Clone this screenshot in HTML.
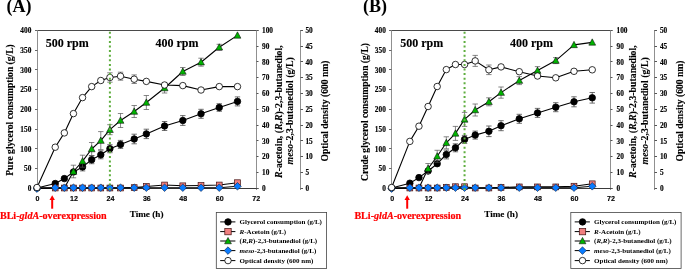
<!DOCTYPE html>
<html><head><meta charset="utf-8"><style>
html,body{margin:0;padding:0;background:#fff;}
body{width:685px;height:269px;overflow:hidden;}
svg{display:block;will-change:transform;}
.b{stroke:#000;stroke-width:0.12px;}
.t{stroke:#000;stroke-width:0.15px;}
.r{stroke:#f00;stroke-width:0.2px;}
</style></head><body>
<svg width="685" height="269" viewBox="0 0 685 269">
<rect width="685" height="269" fill="#fff"/>
<g>
<text x="6.4" y="12.3" font-family="'Liberation Serif', serif" font-size="18" font-weight="bold" text-anchor="start" fill="#000" >(A)</text>
<path d="M35 30.5H258.5" stroke="#4a4a4a" stroke-width="1"/>
<path d="M37.5 30V188.5" stroke="#909090" stroke-width="1"/>
<path d="M256.5 30V190" stroke="#909090" stroke-width="1"/>
<path d="M300.5 30V190" stroke="#909090" stroke-width="1"/>
<path d="M37 188.5H258.5" stroke="#3a3a3a" stroke-width="1"/>
<path d="M35 188.5H37.5" stroke="#666" stroke-width="1"/>
<text x="31.3" y="191" font-family="'Liberation Serif', serif" font-size="7.3" font-weight="bold" text-anchor="end" fill="#000" class="t">0</text>
<path d="M35 168.5H37.5" stroke="#666" stroke-width="1"/>
<text x="31.3" y="171.26" font-family="'Liberation Serif', serif" font-size="7.3" font-weight="bold" text-anchor="end" fill="#000" class="t">50</text>
<path d="M35 148.5H37.5" stroke="#666" stroke-width="1"/>
<text x="31.3" y="151.53" font-family="'Liberation Serif', serif" font-size="7.3" font-weight="bold" text-anchor="end" fill="#000" class="t">100</text>
<path d="M35 129.5H37.5" stroke="#666" stroke-width="1"/>
<text x="31.3" y="131.79" font-family="'Liberation Serif', serif" font-size="7.3" font-weight="bold" text-anchor="end" fill="#000" class="t">150</text>
<path d="M35 109.5H37.5" stroke="#666" stroke-width="1"/>
<text x="31.3" y="112.05" font-family="'Liberation Serif', serif" font-size="7.3" font-weight="bold" text-anchor="end" fill="#000" class="t">200</text>
<path d="M35 89.5H37.5" stroke="#666" stroke-width="1"/>
<text x="31.3" y="92.31" font-family="'Liberation Serif', serif" font-size="7.3" font-weight="bold" text-anchor="end" fill="#000" class="t">250</text>
<path d="M35 69.5H37.5" stroke="#666" stroke-width="1"/>
<text x="31.3" y="72.58" font-family="'Liberation Serif', serif" font-size="7.3" font-weight="bold" text-anchor="end" fill="#000" class="t">300</text>
<path d="M35 50.5H37.5" stroke="#666" stroke-width="1"/>
<text x="31.3" y="52.84" font-family="'Liberation Serif', serif" font-size="7.3" font-weight="bold" text-anchor="end" fill="#000" class="t">350</text>
<path d="M35 30.5H37.5" stroke="#666" stroke-width="1"/>
<text x="31.3" y="33.1" font-family="'Liberation Serif', serif" font-size="7.3" font-weight="bold" text-anchor="end" fill="#000" class="t">400</text>
<path d="M256.5 188.5H258.5" stroke="#555" stroke-width="1"/>
<text x="262" y="191" font-family="'Liberation Serif', serif" font-size="7.3" font-weight="bold" text-anchor="start" fill="#000" class="t">0</text>
<path d="M256.5 172.5H258.5" stroke="#555" stroke-width="1"/>
<text x="262" y="175.21" font-family="'Liberation Serif', serif" font-size="7.3" font-weight="bold" text-anchor="start" fill="#000" class="t">10</text>
<path d="M256.5 156.5H258.5" stroke="#555" stroke-width="1"/>
<text x="262" y="159.42" font-family="'Liberation Serif', serif" font-size="7.3" font-weight="bold" text-anchor="start" fill="#000" class="t">20</text>
<path d="M256.5 140.5H258.5" stroke="#555" stroke-width="1"/>
<text x="262" y="143.63" font-family="'Liberation Serif', serif" font-size="7.3" font-weight="bold" text-anchor="start" fill="#000" class="t">30</text>
<path d="M256.5 125.5H258.5" stroke="#555" stroke-width="1"/>
<text x="262" y="127.84" font-family="'Liberation Serif', serif" font-size="7.3" font-weight="bold" text-anchor="start" fill="#000" class="t">40</text>
<path d="M256.5 109.5H258.5" stroke="#555" stroke-width="1"/>
<text x="262" y="112.05" font-family="'Liberation Serif', serif" font-size="7.3" font-weight="bold" text-anchor="start" fill="#000" class="t">50</text>
<path d="M256.5 93.5H258.5" stroke="#555" stroke-width="1"/>
<text x="262" y="96.26" font-family="'Liberation Serif', serif" font-size="7.3" font-weight="bold" text-anchor="start" fill="#000" class="t">60</text>
<path d="M256.5 77.5H258.5" stroke="#555" stroke-width="1"/>
<text x="262" y="80.47" font-family="'Liberation Serif', serif" font-size="7.3" font-weight="bold" text-anchor="start" fill="#000" class="t">70</text>
<path d="M256.5 61.5H258.5" stroke="#555" stroke-width="1"/>
<text x="262" y="64.68" font-family="'Liberation Serif', serif" font-size="7.3" font-weight="bold" text-anchor="start" fill="#000" class="t">80</text>
<path d="M256.5 46.5H258.5" stroke="#555" stroke-width="1"/>
<text x="262" y="48.89" font-family="'Liberation Serif', serif" font-size="7.3" font-weight="bold" text-anchor="start" fill="#000" class="t">90</text>
<path d="M256.5 30.5H258.5" stroke="#555" stroke-width="1"/>
<text x="262" y="33.1" font-family="'Liberation Serif', serif" font-size="7.3" font-weight="bold" text-anchor="start" fill="#000" class="t">100</text>
<path d="M300.5 188.5H303" stroke="#555" stroke-width="1"/>
<text x="305.4" y="191" font-family="'Liberation Serif', serif" font-size="7.3" font-weight="bold" text-anchor="start" fill="#000" class="t">0</text>
<path d="M300.5 172.5H303" stroke="#555" stroke-width="1"/>
<text x="305.4" y="175.21" font-family="'Liberation Serif', serif" font-size="7.3" font-weight="bold" text-anchor="start" fill="#000" class="t">5</text>
<path d="M300.5 156.5H303" stroke="#555" stroke-width="1"/>
<text x="305.4" y="159.42" font-family="'Liberation Serif', serif" font-size="7.3" font-weight="bold" text-anchor="start" fill="#000" class="t">10</text>
<path d="M300.5 140.5H303" stroke="#555" stroke-width="1"/>
<text x="305.4" y="143.63" font-family="'Liberation Serif', serif" font-size="7.3" font-weight="bold" text-anchor="start" fill="#000" class="t">15</text>
<path d="M300.5 125.5H303" stroke="#555" stroke-width="1"/>
<text x="305.4" y="127.84" font-family="'Liberation Serif', serif" font-size="7.3" font-weight="bold" text-anchor="start" fill="#000" class="t">20</text>
<path d="M300.5 109.5H303" stroke="#555" stroke-width="1"/>
<text x="305.4" y="112.05" font-family="'Liberation Serif', serif" font-size="7.3" font-weight="bold" text-anchor="start" fill="#000" class="t">25</text>
<path d="M300.5 93.5H303" stroke="#555" stroke-width="1"/>
<text x="305.4" y="96.26" font-family="'Liberation Serif', serif" font-size="7.3" font-weight="bold" text-anchor="start" fill="#000" class="t">30</text>
<path d="M300.5 77.5H303" stroke="#555" stroke-width="1"/>
<text x="305.4" y="80.47" font-family="'Liberation Serif', serif" font-size="7.3" font-weight="bold" text-anchor="start" fill="#000" class="t">35</text>
<path d="M300.5 61.5H303" stroke="#555" stroke-width="1"/>
<text x="305.4" y="64.68" font-family="'Liberation Serif', serif" font-size="7.3" font-weight="bold" text-anchor="start" fill="#000" class="t">40</text>
<path d="M300.5 46.5H303" stroke="#555" stroke-width="1"/>
<text x="305.4" y="48.89" font-family="'Liberation Serif', serif" font-size="7.3" font-weight="bold" text-anchor="start" fill="#000" class="t">45</text>
<path d="M300.5 30.5H303" stroke="#555" stroke-width="1"/>
<text x="305.4" y="33.1" font-family="'Liberation Serif', serif" font-size="7.3" font-weight="bold" text-anchor="start" fill="#000" class="t">50</text>
<text transform="translate(37.5,201.4) scale(0.9,1)" font-family="'Liberation Sans', sans-serif" font-size="7.9" font-weight="bold" text-anchor="middle" class="t">0</text>
<text transform="translate(73.95,201.4) scale(0.9,1)" font-family="'Liberation Sans', sans-serif" font-size="7.9" font-weight="bold" text-anchor="middle" class="t">12</text>
<text transform="translate(110.4,201.4) scale(0.9,1)" font-family="'Liberation Sans', sans-serif" font-size="7.9" font-weight="bold" text-anchor="middle" class="t">24</text>
<text transform="translate(146.85,201.4) scale(0.9,1)" font-family="'Liberation Sans', sans-serif" font-size="7.9" font-weight="bold" text-anchor="middle" class="t">36</text>
<text transform="translate(183.3,201.4) scale(0.9,1)" font-family="'Liberation Sans', sans-serif" font-size="7.9" font-weight="bold" text-anchor="middle" class="t">48</text>
<text transform="translate(219.75,201.4) scale(0.9,1)" font-family="'Liberation Sans', sans-serif" font-size="7.9" font-weight="bold" text-anchor="middle" class="t">60</text>
<text transform="translate(256.2,201.4) scale(0.9,1)" font-family="'Liberation Sans', sans-serif" font-size="7.9" font-weight="bold" text-anchor="middle" class="t">72</text>
<text x="146.6" y="217.3" font-family="'Liberation Serif', serif" font-size="9.2" font-weight="bold" text-anchor="middle" fill="#000" class="b">Time (h)</text>
<text transform="translate(13.3,110) rotate(-90)" class="b" font-family="'Liberation Serif', serif" font-size="9.55" font-weight="bold" text-anchor="middle">Pure glycerol consumption (g/L)</text>
<text transform="translate(281.5,111.6) rotate(-90)" class="b" font-family="'Liberation Serif', serif" font-size="9.8" font-weight="bold" text-anchor="middle"><tspan font-style="italic">R</tspan>-acetoin, (<tspan font-style="italic">R</tspan>,<tspan font-style="italic">R</tspan>)-2,3-butanediol,</text>
<text transform="translate(293,110.8) rotate(-90)" class="b" font-family="'Liberation Serif', serif" font-size="9.8" font-weight="bold" text-anchor="middle"><tspan font-style="italic">meso</tspan>-2,3-butanediol (g/L)</text>
<text transform="translate(328,111) rotate(-90)" class="b" font-family="'Liberation Serif', serif" font-size="9.6" font-weight="bold" text-anchor="middle">Optical density (600 nm)</text>
<text x="45.8" y="47.3" font-family="'Liberation Serif', serif" font-size="12" font-weight="bold" text-anchor="start" fill="#000" class="b">500 rpm</text>
<text x="155.5" y="47.2" font-family="'Liberation Serif', serif" font-size="12" font-weight="bold" text-anchor="start" fill="#000" class="b">400 rpm</text>
<polyline points="37,188 55.23,183.5 64.34,178.6 73.45,172 82.56,166.9 91.68,159.7 100.79,154.8 109.9,148.7 120.53,144.4 134.2,139 146.35,133.9 164.57,126 182.8,120.5 201.03,113.8 219.25,107.5 237.47,101.4" fill="none" stroke="#000" stroke-width="1.1" stroke-linejoin="round"/>
<path d="M82.56 162.9V170.9M79.86 162.9H85.26M79.86 170.9H85.26" stroke="#333" stroke-width="0.7" fill="none"/>
<path d="M91.68 155.7V163.7M88.98 155.7H94.38M88.98 163.7H94.38" stroke="#333" stroke-width="0.7" fill="none"/>
<path d="M100.79 150.8V158.8M98.09 150.8H103.49M98.09 158.8H103.49" stroke="#333" stroke-width="0.7" fill="none"/>
<path d="M109.9 144.7V152.7M107.2 144.7H112.6M107.2 152.7H112.6" stroke="#333" stroke-width="0.7" fill="none"/>
<path d="M120.53 140.4V148.4M117.83 140.4H123.23M117.83 148.4H123.23" stroke="#333" stroke-width="0.7" fill="none"/>
<path d="M134.2 134.2V143.8M131.5 134.2H136.9M131.5 143.8H136.9" stroke="#333" stroke-width="0.7" fill="none"/>
<path d="M146.35 129.2V138.6M143.65 129.2H149.05M143.65 138.6H149.05" stroke="#333" stroke-width="0.7" fill="none"/>
<path d="M164.57 121.5V130.5M161.88 121.5H167.27M161.88 130.5H167.27" stroke="#333" stroke-width="0.7" fill="none"/>
<path d="M182.8 115.6V125.4M180.1 115.6H185.5M180.1 125.4H185.5" stroke="#333" stroke-width="0.7" fill="none"/>
<path d="M201.03 109.3V118.3M198.33 109.3H203.72M198.33 118.3H203.72" stroke="#333" stroke-width="0.7" fill="none"/>
<path d="M219.25 103.7V111.3M216.55 103.7H221.95M216.55 111.3H221.95" stroke="#333" stroke-width="0.7" fill="none"/>
<path d="M237.47 96.9V105.9M234.78 96.9H240.17M234.78 105.9H240.17" stroke="#333" stroke-width="0.7" fill="none"/>
<circle cx="37" cy="188" r="3.25" fill="#000" stroke="#000" stroke-width="0.8"/>
<circle cx="55.23" cy="183.5" r="3.25" fill="#000" stroke="#000" stroke-width="0.8"/>
<circle cx="64.34" cy="178.6" r="3.25" fill="#000" stroke="#000" stroke-width="0.8"/>
<circle cx="73.45" cy="172" r="3.25" fill="#000" stroke="#000" stroke-width="0.8"/>
<circle cx="82.56" cy="166.9" r="3.25" fill="#000" stroke="#000" stroke-width="0.8"/>
<circle cx="91.68" cy="159.7" r="3.25" fill="#000" stroke="#000" stroke-width="0.8"/>
<circle cx="100.79" cy="154.8" r="3.25" fill="#000" stroke="#000" stroke-width="0.8"/>
<circle cx="109.9" cy="148.7" r="3.25" fill="#000" stroke="#000" stroke-width="0.8"/>
<circle cx="120.53" cy="144.4" r="3.25" fill="#000" stroke="#000" stroke-width="0.8"/>
<circle cx="134.2" cy="139" r="3.25" fill="#000" stroke="#000" stroke-width="0.8"/>
<circle cx="146.35" cy="133.9" r="3.25" fill="#000" stroke="#000" stroke-width="0.8"/>
<circle cx="164.57" cy="126" r="3.25" fill="#000" stroke="#000" stroke-width="0.8"/>
<circle cx="182.8" cy="120.5" r="3.25" fill="#000" stroke="#000" stroke-width="0.8"/>
<circle cx="201.03" cy="113.8" r="3.25" fill="#000" stroke="#000" stroke-width="0.8"/>
<circle cx="219.25" cy="107.5" r="3.25" fill="#000" stroke="#000" stroke-width="0.8"/>
<circle cx="237.47" cy="101.4" r="3.25" fill="#000" stroke="#000" stroke-width="0.8"/>
<polyline points="37,188 55.23,188 64.34,188 73.45,188 82.56,188 91.68,188 100.79,188 109.9,188 120.53,188 134.2,187.6 146.35,186.5 164.57,185 182.8,185.8 201.03,185.5 219.25,185 237.47,182.7" fill="none" stroke="#000" stroke-width="1.1" stroke-linejoin="round"/>
<rect x="52.33" y="185.1" width="5.8" height="5.8" fill="#f08080" stroke="#401010" stroke-width="0.7"/>
<rect x="61.44" y="185.1" width="5.8" height="5.8" fill="#f08080" stroke="#401010" stroke-width="0.7"/>
<rect x="70.55" y="185.1" width="5.8" height="5.8" fill="#f08080" stroke="#401010" stroke-width="0.7"/>
<rect x="79.66" y="185.1" width="5.8" height="5.8" fill="#f08080" stroke="#401010" stroke-width="0.7"/>
<rect x="88.78" y="185.1" width="5.8" height="5.8" fill="#f08080" stroke="#401010" stroke-width="0.7"/>
<rect x="97.89" y="185.1" width="5.8" height="5.8" fill="#f08080" stroke="#401010" stroke-width="0.7"/>
<rect x="107" y="185.1" width="5.8" height="5.8" fill="#f08080" stroke="#401010" stroke-width="0.7"/>
<rect x="117.63" y="185.1" width="5.8" height="5.8" fill="#f08080" stroke="#401010" stroke-width="0.7"/>
<rect x="131.3" y="184.7" width="5.8" height="5.8" fill="#f08080" stroke="#401010" stroke-width="0.7"/>
<rect x="143.45" y="183.6" width="5.8" height="5.8" fill="#f08080" stroke="#401010" stroke-width="0.7"/>
<rect x="161.67" y="182.1" width="5.8" height="5.8" fill="#f08080" stroke="#401010" stroke-width="0.7"/>
<rect x="179.9" y="182.9" width="5.8" height="5.8" fill="#f08080" stroke="#401010" stroke-width="0.7"/>
<rect x="198.12" y="182.6" width="5.8" height="5.8" fill="#f08080" stroke="#401010" stroke-width="0.7"/>
<rect x="216.35" y="182.1" width="5.8" height="5.8" fill="#f08080" stroke="#401010" stroke-width="0.7"/>
<rect x="234.57" y="179.8" width="5.8" height="5.8" fill="#f08080" stroke="#401010" stroke-width="0.7"/>
<polyline points="37,188 55.23,188 64.34,188 73.45,171.5 82.56,161.2 91.68,149 100.79,140.6 109.9,129.7 120.53,120.5 134.2,111.5 146.35,102.5 164.57,88 182.8,71.5 201.03,62.2 219.25,47.3 237.47,35.4" fill="none" stroke="#000" stroke-width="1.1" stroke-linejoin="round"/>
<path d="M73.45 165.2V177.8M70.75 165.2H76.15M70.75 177.8H76.15" stroke="#555" stroke-width="0.7" fill="none"/>
<path d="M82.56 155.2V167.2M79.86 155.2H85.26M79.86 167.2H85.26" stroke="#555" stroke-width="0.7" fill="none"/>
<path d="M91.68 142.5V155.5M88.98 142.5H94.38M88.98 155.5H94.38" stroke="#555" stroke-width="0.7" fill="none"/>
<path d="M100.79 131.6V149.6M98.09 131.6H103.49M98.09 149.6H103.49" stroke="#555" stroke-width="0.7" fill="none"/>
<path d="M109.9 124.7V134.7M107.2 124.7H112.6M107.2 134.7H112.6" stroke="#555" stroke-width="0.7" fill="none"/>
<path d="M120.53 113.5V127.5M117.83 113.5H123.23M117.83 127.5H123.23" stroke="#555" stroke-width="0.7" fill="none"/>
<path d="M134.2 105.5V117.5M131.5 105.5H136.9M131.5 117.5H136.9" stroke="#555" stroke-width="0.7" fill="none"/>
<path d="M146.35 95.5V109.5M143.65 95.5H149.05M143.65 109.5H149.05" stroke="#555" stroke-width="0.7" fill="none"/>
<path d="M164.57 83V93M161.88 83H167.27M161.88 93H167.27" stroke="#555" stroke-width="0.7" fill="none"/>
<path d="M182.8 67.5V75.5M180.1 67.5H185.5M180.1 75.5H185.5" stroke="#555" stroke-width="0.7" fill="none"/>
<path d="M201.03 58.2V66.2M198.33 58.2H203.72M198.33 66.2H203.72" stroke="#555" stroke-width="0.7" fill="none"/>
<path d="M219.25 44.3V50.3M216.55 44.3H221.95M216.55 50.3H221.95" stroke="#555" stroke-width="0.7" fill="none"/>
<path d="M73.45 167.95L76.85 174.25L70.05 174.25Z" fill="#00b400" stroke="#111" stroke-width="0.6"/>
<path d="M82.56 157.65L85.96 163.95L79.16 163.95Z" fill="#00b400" stroke="#111" stroke-width="0.6"/>
<path d="M91.68 145.45L95.08 151.75L88.28 151.75Z" fill="#00b400" stroke="#111" stroke-width="0.6"/>
<path d="M100.79 137.05L104.19 143.35L97.39 143.35Z" fill="#00b400" stroke="#111" stroke-width="0.6"/>
<path d="M109.9 126.15L113.3 132.45L106.5 132.45Z" fill="#00b400" stroke="#111" stroke-width="0.6"/>
<path d="M120.53 116.95L123.93 123.25L117.13 123.25Z" fill="#00b400" stroke="#111" stroke-width="0.6"/>
<path d="M134.2 107.95L137.6 114.25L130.8 114.25Z" fill="#00b400" stroke="#111" stroke-width="0.6"/>
<path d="M146.35 98.95L149.75 105.25L142.95 105.25Z" fill="#00b400" stroke="#111" stroke-width="0.6"/>
<path d="M164.57 84.45L167.97 90.75L161.17 90.75Z" fill="#00b400" stroke="#111" stroke-width="0.6"/>
<path d="M182.8 67.95L186.2 74.25L179.4 74.25Z" fill="#00b400" stroke="#111" stroke-width="0.6"/>
<path d="M201.03 58.65L204.43 64.95L197.62 64.95Z" fill="#00b400" stroke="#111" stroke-width="0.6"/>
<path d="M219.25 43.75L222.65 50.05L215.85 50.05Z" fill="#00b400" stroke="#111" stroke-width="0.6"/>
<path d="M237.47 31.85L240.88 38.15L234.07 38.15Z" fill="#00b400" stroke="#111" stroke-width="0.6"/>
<polyline points="37,188.6 55.23,187.7 64.34,187.7 73.45,187.7 82.56,187.7 91.68,187.7 100.79,187.7 109.9,187.7 120.53,187.7 134.2,187.7 146.35,187.7 164.57,187.7 182.8,187.7 201.03,187.7 219.25,187.7 237.47,186.3" fill="none" stroke="#000" stroke-width="1.1" stroke-linejoin="round"/>
<path d="M37 184.8L40.8 188.6L37 192.4L33.2 188.6Z" fill="#0a7cff" stroke="#102040" stroke-width="0.6"/>
<path d="M55.23 183.9L59.02 187.7L55.23 191.5L51.43 187.7Z" fill="#0a7cff" stroke="#102040" stroke-width="0.6"/>
<path d="M64.34 183.9L68.14 187.7L64.34 191.5L60.54 187.7Z" fill="#0a7cff" stroke="#102040" stroke-width="0.6"/>
<path d="M73.45 183.9L77.25 187.7L73.45 191.5L69.65 187.7Z" fill="#0a7cff" stroke="#102040" stroke-width="0.6"/>
<path d="M82.56 183.9L86.36 187.7L82.56 191.5L78.76 187.7Z" fill="#0a7cff" stroke="#102040" stroke-width="0.6"/>
<path d="M91.68 183.9L95.48 187.7L91.68 191.5L87.88 187.7Z" fill="#0a7cff" stroke="#102040" stroke-width="0.6"/>
<path d="M100.79 183.9L104.59 187.7L100.79 191.5L96.99 187.7Z" fill="#0a7cff" stroke="#102040" stroke-width="0.6"/>
<path d="M109.9 183.9L113.7 187.7L109.9 191.5L106.1 187.7Z" fill="#0a7cff" stroke="#102040" stroke-width="0.6"/>
<path d="M120.53 183.9L124.33 187.7L120.53 191.5L116.73 187.7Z" fill="#0a7cff" stroke="#102040" stroke-width="0.6"/>
<path d="M134.2 183.9L138 187.7L134.2 191.5L130.4 187.7Z" fill="#0a7cff" stroke="#102040" stroke-width="0.6"/>
<path d="M146.35 183.9L150.15 187.7L146.35 191.5L142.55 187.7Z" fill="#0a7cff" stroke="#102040" stroke-width="0.6"/>
<path d="M164.57 183.9L168.38 187.7L164.57 191.5L160.77 187.7Z" fill="#0a7cff" stroke="#102040" stroke-width="0.6"/>
<path d="M182.8 183.9L186.6 187.7L182.8 191.5L179 187.7Z" fill="#0a7cff" stroke="#102040" stroke-width="0.6"/>
<path d="M201.03 183.9L204.83 187.7L201.03 191.5L197.22 187.7Z" fill="#0a7cff" stroke="#102040" stroke-width="0.6"/>
<path d="M219.25 183.9L223.05 187.7L219.25 191.5L215.45 187.7Z" fill="#0a7cff" stroke="#102040" stroke-width="0.6"/>
<path d="M237.47 182.5L241.28 186.3L237.47 190.1L233.67 186.3Z" fill="#0a7cff" stroke="#102040" stroke-width="0.6"/>
<polyline points="37,187.5 55.23,147.2 64.34,132.9 73.45,113.6 82.56,97.6 91.68,86.6 100.79,80.5 109.9,77.5 120.53,76.2 134.2,79.2 146.35,81.4 164.57,85 182.8,85.6 201.03,90 219.25,86.6 237.47,86.6" fill="none" stroke="#000" stroke-width="1.1" stroke-linejoin="round"/>
<path d="M109.9 72.8V82.2M107.2 72.8H112.6M107.2 82.2H112.6" stroke="#555" stroke-width="0.7" fill="none"/>
<path d="M120.53 72.2V80.2M117.83 72.2H123.23M117.83 80.2H123.23" stroke="#555" stroke-width="0.7" fill="none"/>
<path d="M134.2 74.9V83.5M131.5 74.9H136.9M131.5 83.5H136.9" stroke="#555" stroke-width="0.7" fill="none"/>
<circle cx="37" cy="187.5" r="3.25" fill="#fff" stroke="#000" stroke-width="0.8"/>
<circle cx="55.23" cy="147.2" r="3.25" fill="#fff" stroke="#000" stroke-width="0.8"/>
<circle cx="64.34" cy="132.9" r="3.25" fill="#fff" stroke="#000" stroke-width="0.8"/>
<circle cx="73.45" cy="113.6" r="3.25" fill="#fff" stroke="#000" stroke-width="0.8"/>
<circle cx="82.56" cy="97.6" r="3.25" fill="#fff" stroke="#000" stroke-width="0.8"/>
<circle cx="91.68" cy="86.6" r="3.25" fill="#fff" stroke="#000" stroke-width="0.8"/>
<circle cx="100.79" cy="80.5" r="3.25" fill="#fff" stroke="#000" stroke-width="0.8"/>
<circle cx="109.9" cy="77.5" r="3.25" fill="#fff" stroke="#000" stroke-width="0.8"/>
<circle cx="120.53" cy="76.2" r="3.25" fill="#fff" stroke="#000" stroke-width="0.8"/>
<circle cx="134.2" cy="79.2" r="3.25" fill="#fff" stroke="#000" stroke-width="0.8"/>
<circle cx="146.35" cy="81.4" r="3.25" fill="#fff" stroke="#000" stroke-width="0.8"/>
<circle cx="164.57" cy="85" r="3.25" fill="#fff" stroke="#000" stroke-width="0.8"/>
<circle cx="182.8" cy="85.6" r="3.25" fill="#fff" stroke="#000" stroke-width="0.8"/>
<circle cx="201.03" cy="90" r="3.25" fill="#fff" stroke="#000" stroke-width="0.8"/>
<circle cx="219.25" cy="86.6" r="3.25" fill="#fff" stroke="#000" stroke-width="0.8"/>
<circle cx="237.47" cy="86.6" r="3.25" fill="#fff" stroke="#000" stroke-width="0.8"/>
<path d="M109.9 31.7V190" stroke="#5fae3f" stroke-width="2" stroke-dasharray="2 2.6"/>
<path d="M52.19 208.7V199" stroke="#ff0000" stroke-width="2"/>
<path d="M52.19 195.3L54.89 200L49.49 200Z" fill="#ff0000"/>
<text x="-0.1" y="218.9" font-family="'Liberation Serif', serif" font-size="10.1" font-weight="bold" fill="#ff0000" class="r">BLi-<tspan font-style="italic">gldA</tspan>-overexpression</text>
<rect x="216.3" y="212.5" width="110.3" height="56" fill="#fff" stroke="#444" stroke-width="0.8"/>
<path d="M220.2 221.9H235.4" stroke="#000" stroke-width="1"/>
<circle cx="228" cy="221.9" r="3.25" fill="#000" stroke="#000" stroke-width="0.8"/>
<text x="239.6" y="224.3" font-family="'Liberation Serif', serif" font-size="7" font-weight="bold" text-anchor="start" fill="#000" >Glycerol consumption (g/L)</text>
<path d="M220.2 231.6H235.4" stroke="#000" stroke-width="1"/>
<rect x="224.8" y="228.4" width="6.4" height="6.4" fill="#f08080" stroke="#401010" stroke-width="0.7"/>
<text x="239.6" y="234" font-family="'Liberation Serif', serif" font-size="7" font-weight="bold" text-anchor="start" fill="#000" ><tspan font-style="italic">R</tspan>-Acetoin (g/L)</text>
<path d="M220.2 241H235.4" stroke="#000" stroke-width="1"/>
<path d="M228 237.45L231.4 243.75L224.6 243.75Z" fill="#00b400" stroke="#111" stroke-width="0.6"/>
<text x="239.6" y="243.4" font-family="'Liberation Serif', serif" font-size="7" font-weight="bold" text-anchor="start" fill="#000" >(<tspan font-style="italic">R</tspan>,<tspan font-style="italic">R</tspan>)-2,3-butanediol (g/L)</text>
<path d="M220.2 250.6H235.4" stroke="#000" stroke-width="1"/>
<path d="M228 246.8L231.8 250.6L228 254.4L224.2 250.6Z" fill="#0a7cff" stroke="#102040" stroke-width="0.6"/>
<text x="239.6" y="253" font-family="'Liberation Serif', serif" font-size="7" font-weight="bold" text-anchor="start" fill="#000" ><tspan font-style="italic">meso</tspan>-2,3-butanediol (g/L)</text>
<path d="M220.2 260.6H235.4" stroke="#000" stroke-width="1"/>
<circle cx="228" cy="260.6" r="3.25" fill="#fff" stroke="#000" stroke-width="0.8"/>
<text x="239.6" y="263" font-family="'Liberation Serif', serif" font-size="7" font-weight="bold" text-anchor="start" fill="#000" >Optical density (600 nm)</text>
</g>
<g>
<text x="362.9" y="12.3" font-family="'Liberation Serif', serif" font-size="18" font-weight="bold" text-anchor="start" fill="#000" >(B)</text>
<path d="M389 30.5H612.5" stroke="#4a4a4a" stroke-width="1"/>
<path d="M391.5 30V188.5" stroke="#909090" stroke-width="1"/>
<path d="M610.5 30V190" stroke="#909090" stroke-width="1"/>
<path d="M654.5 30V190" stroke="#909090" stroke-width="1"/>
<path d="M391 188.5H612.5" stroke="#3a3a3a" stroke-width="1"/>
<path d="M389 188.5H391.5" stroke="#666" stroke-width="1"/>
<text x="385.8" y="191" font-family="'Liberation Serif', serif" font-size="7.3" font-weight="bold" text-anchor="end" fill="#000" class="t">0</text>
<path d="M389 168.5H391.5" stroke="#666" stroke-width="1"/>
<text x="385.8" y="171.26" font-family="'Liberation Serif', serif" font-size="7.3" font-weight="bold" text-anchor="end" fill="#000" class="t">50</text>
<path d="M389 148.5H391.5" stroke="#666" stroke-width="1"/>
<text x="385.8" y="151.53" font-family="'Liberation Serif', serif" font-size="7.3" font-weight="bold" text-anchor="end" fill="#000" class="t">100</text>
<path d="M389 129.5H391.5" stroke="#666" stroke-width="1"/>
<text x="385.8" y="131.79" font-family="'Liberation Serif', serif" font-size="7.3" font-weight="bold" text-anchor="end" fill="#000" class="t">150</text>
<path d="M389 109.5H391.5" stroke="#666" stroke-width="1"/>
<text x="385.8" y="112.05" font-family="'Liberation Serif', serif" font-size="7.3" font-weight="bold" text-anchor="end" fill="#000" class="t">200</text>
<path d="M389 89.5H391.5" stroke="#666" stroke-width="1"/>
<text x="385.8" y="92.31" font-family="'Liberation Serif', serif" font-size="7.3" font-weight="bold" text-anchor="end" fill="#000" class="t">250</text>
<path d="M389 69.5H391.5" stroke="#666" stroke-width="1"/>
<text x="385.8" y="72.58" font-family="'Liberation Serif', serif" font-size="7.3" font-weight="bold" text-anchor="end" fill="#000" class="t">300</text>
<path d="M389 50.5H391.5" stroke="#666" stroke-width="1"/>
<text x="385.8" y="52.84" font-family="'Liberation Serif', serif" font-size="7.3" font-weight="bold" text-anchor="end" fill="#000" class="t">350</text>
<path d="M389 30.5H391.5" stroke="#666" stroke-width="1"/>
<text x="385.8" y="33.1" font-family="'Liberation Serif', serif" font-size="7.3" font-weight="bold" text-anchor="end" fill="#000" class="t">400</text>
<path d="M610.5 188.5H612.5" stroke="#555" stroke-width="1"/>
<text x="616.5" y="191" font-family="'Liberation Serif', serif" font-size="7.3" font-weight="bold" text-anchor="start" fill="#000" class="t">0</text>
<path d="M610.5 172.5H612.5" stroke="#555" stroke-width="1"/>
<text x="616.5" y="175.21" font-family="'Liberation Serif', serif" font-size="7.3" font-weight="bold" text-anchor="start" fill="#000" class="t">10</text>
<path d="M610.5 156.5H612.5" stroke="#555" stroke-width="1"/>
<text x="616.5" y="159.42" font-family="'Liberation Serif', serif" font-size="7.3" font-weight="bold" text-anchor="start" fill="#000" class="t">20</text>
<path d="M610.5 140.5H612.5" stroke="#555" stroke-width="1"/>
<text x="616.5" y="143.63" font-family="'Liberation Serif', serif" font-size="7.3" font-weight="bold" text-anchor="start" fill="#000" class="t">30</text>
<path d="M610.5 125.5H612.5" stroke="#555" stroke-width="1"/>
<text x="616.5" y="127.84" font-family="'Liberation Serif', serif" font-size="7.3" font-weight="bold" text-anchor="start" fill="#000" class="t">40</text>
<path d="M610.5 109.5H612.5" stroke="#555" stroke-width="1"/>
<text x="616.5" y="112.05" font-family="'Liberation Serif', serif" font-size="7.3" font-weight="bold" text-anchor="start" fill="#000" class="t">50</text>
<path d="M610.5 93.5H612.5" stroke="#555" stroke-width="1"/>
<text x="616.5" y="96.26" font-family="'Liberation Serif', serif" font-size="7.3" font-weight="bold" text-anchor="start" fill="#000" class="t">60</text>
<path d="M610.5 77.5H612.5" stroke="#555" stroke-width="1"/>
<text x="616.5" y="80.47" font-family="'Liberation Serif', serif" font-size="7.3" font-weight="bold" text-anchor="start" fill="#000" class="t">70</text>
<path d="M610.5 61.5H612.5" stroke="#555" stroke-width="1"/>
<text x="616.5" y="64.68" font-family="'Liberation Serif', serif" font-size="7.3" font-weight="bold" text-anchor="start" fill="#000" class="t">80</text>
<path d="M610.5 46.5H612.5" stroke="#555" stroke-width="1"/>
<text x="616.5" y="48.89" font-family="'Liberation Serif', serif" font-size="7.3" font-weight="bold" text-anchor="start" fill="#000" class="t">90</text>
<path d="M610.5 30.5H612.5" stroke="#555" stroke-width="1"/>
<text x="616.5" y="33.1" font-family="'Liberation Serif', serif" font-size="7.3" font-weight="bold" text-anchor="start" fill="#000" class="t">100</text>
<path d="M654.5 188.5H657" stroke="#555" stroke-width="1"/>
<text x="659.9" y="191" font-family="'Liberation Serif', serif" font-size="7.3" font-weight="bold" text-anchor="start" fill="#000" class="t">0</text>
<path d="M654.5 172.5H657" stroke="#555" stroke-width="1"/>
<text x="659.9" y="175.21" font-family="'Liberation Serif', serif" font-size="7.3" font-weight="bold" text-anchor="start" fill="#000" class="t">5</text>
<path d="M654.5 156.5H657" stroke="#555" stroke-width="1"/>
<text x="659.9" y="159.42" font-family="'Liberation Serif', serif" font-size="7.3" font-weight="bold" text-anchor="start" fill="#000" class="t">10</text>
<path d="M654.5 140.5H657" stroke="#555" stroke-width="1"/>
<text x="659.9" y="143.63" font-family="'Liberation Serif', serif" font-size="7.3" font-weight="bold" text-anchor="start" fill="#000" class="t">15</text>
<path d="M654.5 125.5H657" stroke="#555" stroke-width="1"/>
<text x="659.9" y="127.84" font-family="'Liberation Serif', serif" font-size="7.3" font-weight="bold" text-anchor="start" fill="#000" class="t">20</text>
<path d="M654.5 109.5H657" stroke="#555" stroke-width="1"/>
<text x="659.9" y="112.05" font-family="'Liberation Serif', serif" font-size="7.3" font-weight="bold" text-anchor="start" fill="#000" class="t">25</text>
<path d="M654.5 93.5H657" stroke="#555" stroke-width="1"/>
<text x="659.9" y="96.26" font-family="'Liberation Serif', serif" font-size="7.3" font-weight="bold" text-anchor="start" fill="#000" class="t">30</text>
<path d="M654.5 77.5H657" stroke="#555" stroke-width="1"/>
<text x="659.9" y="80.47" font-family="'Liberation Serif', serif" font-size="7.3" font-weight="bold" text-anchor="start" fill="#000" class="t">35</text>
<path d="M654.5 61.5H657" stroke="#555" stroke-width="1"/>
<text x="659.9" y="64.68" font-family="'Liberation Serif', serif" font-size="7.3" font-weight="bold" text-anchor="start" fill="#000" class="t">40</text>
<path d="M654.5 46.5H657" stroke="#555" stroke-width="1"/>
<text x="659.9" y="48.89" font-family="'Liberation Serif', serif" font-size="7.3" font-weight="bold" text-anchor="start" fill="#000" class="t">45</text>
<path d="M654.5 30.5H657" stroke="#555" stroke-width="1"/>
<text x="659.9" y="33.1" font-family="'Liberation Serif', serif" font-size="7.3" font-weight="bold" text-anchor="start" fill="#000" class="t">50</text>
<text transform="translate(392.1,201.4) scale(0.9,1)" font-family="'Liberation Sans', sans-serif" font-size="7.9" font-weight="bold" text-anchor="middle" class="t">0</text>
<text transform="translate(428.58,201.4) scale(0.9,1)" font-family="'Liberation Sans', sans-serif" font-size="7.9" font-weight="bold" text-anchor="middle" class="t">12</text>
<text transform="translate(465.06,201.4) scale(0.9,1)" font-family="'Liberation Sans', sans-serif" font-size="7.9" font-weight="bold" text-anchor="middle" class="t">24</text>
<text transform="translate(501.54,201.4) scale(0.9,1)" font-family="'Liberation Sans', sans-serif" font-size="7.9" font-weight="bold" text-anchor="middle" class="t">36</text>
<text transform="translate(538.02,201.4) scale(0.9,1)" font-family="'Liberation Sans', sans-serif" font-size="7.9" font-weight="bold" text-anchor="middle" class="t">48</text>
<text transform="translate(574.5,201.4) scale(0.9,1)" font-family="'Liberation Sans', sans-serif" font-size="7.9" font-weight="bold" text-anchor="middle" class="t">60</text>
<text transform="translate(610.98,201.4) scale(0.9,1)" font-family="'Liberation Sans', sans-serif" font-size="7.9" font-weight="bold" text-anchor="middle" class="t">72</text>
<text x="501.1" y="217.3" font-family="'Liberation Serif', serif" font-size="9.2" font-weight="bold" text-anchor="middle" fill="#000" class="b">Time (h)</text>
<text transform="translate(367.8,112) rotate(-90)" class="b" font-family="'Liberation Serif', serif" font-size="9.55" font-weight="bold" text-anchor="middle">Crude glycerol consumption (g/L)</text>
<text transform="translate(636,111.6) rotate(-90)" class="b" font-family="'Liberation Serif', serif" font-size="9.8" font-weight="bold" text-anchor="middle"><tspan font-style="italic">R</tspan>-acetoin, (<tspan font-style="italic">R</tspan>,<tspan font-style="italic">R</tspan>)-2,3-butanediol,</text>
<text transform="translate(647.5,110.8) rotate(-90)" class="b" font-family="'Liberation Serif', serif" font-size="9.8" font-weight="bold" text-anchor="middle"><tspan font-style="italic">meso</tspan>-2,3-butanediol (g/L)</text>
<text transform="translate(682.5,111) rotate(-90)" class="b" font-family="'Liberation Serif', serif" font-size="9.6" font-weight="bold" text-anchor="middle">Optical density (600 nm)</text>
<text x="400.3" y="47.3" font-family="'Liberation Serif', serif" font-size="12" font-weight="bold" text-anchor="start" fill="#000" class="b">500 rpm</text>
<text x="510" y="47.2" font-family="'Liberation Serif', serif" font-size="12" font-weight="bold" text-anchor="start" fill="#000" class="b">400 rpm</text>
<polyline points="391.6,188 409.84,183.2 418.96,177.6 428.08,171 437.2,163.7 446.32,154.5 455.44,147.8 464.56,139.4 475.2,135.1 488.88,131.3 501.04,125.7 519.28,118.8 537.52,112.9 555.76,107.2 574,101.8 592.24,97.8" fill="none" stroke="#000" stroke-width="1.1" stroke-linejoin="round"/>
<path d="M446.32 150.1V158.9M443.62 150.1H449.02M443.62 158.9H449.02" stroke="#333" stroke-width="0.7" fill="none"/>
<path d="M455.44 143.8V151.8M452.74 143.8H458.14M452.74 151.8H458.14" stroke="#333" stroke-width="0.7" fill="none"/>
<path d="M464.56 135.4V143.4M461.86 135.4H467.26M461.86 143.4H467.26" stroke="#333" stroke-width="0.7" fill="none"/>
<path d="M475.2 131.1V139.1M472.5 131.1H477.9M472.5 139.1H477.9" stroke="#333" stroke-width="0.7" fill="none"/>
<path d="M488.88 126V136.6M486.18 126H491.58M486.18 136.6H491.58" stroke="#333" stroke-width="0.7" fill="none"/>
<path d="M501.04 120.7V130.7M498.34 120.7H503.74M498.34 130.7H503.74" stroke="#333" stroke-width="0.7" fill="none"/>
<path d="M519.28 114.3V123.3M516.58 114.3H521.98M516.58 123.3H521.98" stroke="#333" stroke-width="0.7" fill="none"/>
<path d="M537.52 108.4V117.4M534.82 108.4H540.22M534.82 117.4H540.22" stroke="#333" stroke-width="0.7" fill="none"/>
<path d="M555.76 102.7V111.7M553.06 102.7H558.46M553.06 111.7H558.46" stroke="#333" stroke-width="0.7" fill="none"/>
<path d="M574 96.8V106.8M571.3 96.8H576.7M571.3 106.8H576.7" stroke="#333" stroke-width="0.7" fill="none"/>
<path d="M592.24 92.5V103.1M589.54 92.5H594.94M589.54 103.1H594.94" stroke="#333" stroke-width="0.7" fill="none"/>
<circle cx="391.6" cy="188" r="3.25" fill="#000" stroke="#000" stroke-width="0.8"/>
<circle cx="409.84" cy="183.2" r="3.25" fill="#000" stroke="#000" stroke-width="0.8"/>
<circle cx="418.96" cy="177.6" r="3.25" fill="#000" stroke="#000" stroke-width="0.8"/>
<circle cx="428.08" cy="171" r="3.25" fill="#000" stroke="#000" stroke-width="0.8"/>
<circle cx="437.2" cy="163.7" r="3.25" fill="#000" stroke="#000" stroke-width="0.8"/>
<circle cx="446.32" cy="154.5" r="3.25" fill="#000" stroke="#000" stroke-width="0.8"/>
<circle cx="455.44" cy="147.8" r="3.25" fill="#000" stroke="#000" stroke-width="0.8"/>
<circle cx="464.56" cy="139.4" r="3.25" fill="#000" stroke="#000" stroke-width="0.8"/>
<circle cx="475.2" cy="135.1" r="3.25" fill="#000" stroke="#000" stroke-width="0.8"/>
<circle cx="488.88" cy="131.3" r="3.25" fill="#000" stroke="#000" stroke-width="0.8"/>
<circle cx="501.04" cy="125.7" r="3.25" fill="#000" stroke="#000" stroke-width="0.8"/>
<circle cx="519.28" cy="118.8" r="3.25" fill="#000" stroke="#000" stroke-width="0.8"/>
<circle cx="537.52" cy="112.9" r="3.25" fill="#000" stroke="#000" stroke-width="0.8"/>
<circle cx="555.76" cy="107.2" r="3.25" fill="#000" stroke="#000" stroke-width="0.8"/>
<circle cx="574" cy="101.8" r="3.25" fill="#000" stroke="#000" stroke-width="0.8"/>
<circle cx="592.24" cy="97.8" r="3.25" fill="#000" stroke="#000" stroke-width="0.8"/>
<polyline points="391.6,188 409.84,188 418.96,188 428.08,188 437.2,188 446.32,187.4 455.44,186.7 464.56,186.7 475.2,188 488.88,188 501.04,187.4 519.28,186.9 537.52,186.9 555.76,186.9 574,186.2 592.24,183.8" fill="none" stroke="#000" stroke-width="1.1" stroke-linejoin="round"/>
<rect x="406.94" y="185.1" width="5.8" height="5.8" fill="#f08080" stroke="#401010" stroke-width="0.7"/>
<rect x="416.06" y="185.1" width="5.8" height="5.8" fill="#f08080" stroke="#401010" stroke-width="0.7"/>
<rect x="425.18" y="185.1" width="5.8" height="5.8" fill="#f08080" stroke="#401010" stroke-width="0.7"/>
<rect x="434.3" y="185.1" width="5.8" height="5.8" fill="#f08080" stroke="#401010" stroke-width="0.7"/>
<rect x="443.42" y="184.5" width="5.8" height="5.8" fill="#f08080" stroke="#401010" stroke-width="0.7"/>
<rect x="452.54" y="183.8" width="5.8" height="5.8" fill="#f08080" stroke="#401010" stroke-width="0.7"/>
<rect x="461.66" y="183.8" width="5.8" height="5.8" fill="#f08080" stroke="#401010" stroke-width="0.7"/>
<rect x="472.3" y="185.1" width="5.8" height="5.8" fill="#f08080" stroke="#401010" stroke-width="0.7"/>
<rect x="485.98" y="185.1" width="5.8" height="5.8" fill="#f08080" stroke="#401010" stroke-width="0.7"/>
<rect x="498.14" y="184.5" width="5.8" height="5.8" fill="#f08080" stroke="#401010" stroke-width="0.7"/>
<rect x="516.38" y="184" width="5.8" height="5.8" fill="#f08080" stroke="#401010" stroke-width="0.7"/>
<rect x="534.62" y="184" width="5.8" height="5.8" fill="#f08080" stroke="#401010" stroke-width="0.7"/>
<rect x="552.86" y="184" width="5.8" height="5.8" fill="#f08080" stroke="#401010" stroke-width="0.7"/>
<rect x="571.1" y="183.3" width="5.8" height="5.8" fill="#f08080" stroke="#401010" stroke-width="0.7"/>
<rect x="589.34" y="180.9" width="5.8" height="5.8" fill="#f08080" stroke="#401010" stroke-width="0.7"/>
<polyline points="391.6,188 409.84,188 418.96,188 428.08,168.5 437.2,156.3 446.32,142.8 455.44,133.4 464.56,119.4 475.2,110 488.88,101.8 501.04,92.6 519.28,80.6 537.52,70.6 555.76,60.6 574,44.9 592.24,42.4" fill="none" stroke="#000" stroke-width="1.1" stroke-linejoin="round"/>
<path d="M428.08 163.5V173.5M425.38 163.5H430.78M425.38 173.5H430.78" stroke="#555" stroke-width="0.7" fill="none"/>
<path d="M437.2 150.3V162.3M434.5 150.3H439.9M434.5 162.3H439.9" stroke="#555" stroke-width="0.7" fill="none"/>
<path d="M446.32 136.8V148.8M443.62 136.8H449.02M443.62 148.8H449.02" stroke="#555" stroke-width="0.7" fill="none"/>
<path d="M455.44 126.4V140.4M452.74 126.4H458.14M452.74 140.4H458.14" stroke="#555" stroke-width="0.7" fill="none"/>
<path d="M464.56 112.4V126.4M461.86 112.4H467.26M461.86 126.4H467.26" stroke="#555" stroke-width="0.7" fill="none"/>
<path d="M475.2 104V116M472.5 104H477.9M472.5 116H477.9" stroke="#555" stroke-width="0.7" fill="none"/>
<path d="M488.88 97.8V105.8M486.18 97.8H491.58M486.18 105.8H491.58" stroke="#555" stroke-width="0.7" fill="none"/>
<path d="M501.04 87V98.2M498.34 87H503.74M498.34 98.2H503.74" stroke="#555" stroke-width="0.7" fill="none"/>
<path d="M519.28 76.6V84.6M516.58 76.6H521.98M516.58 84.6H521.98" stroke="#555" stroke-width="0.7" fill="none"/>
<path d="M537.52 66.6V74.6M534.82 66.6H540.22M534.82 74.6H540.22" stroke="#555" stroke-width="0.7" fill="none"/>
<path d="M555.76 57.6V63.6M553.06 57.6H558.46M553.06 63.6H558.46" stroke="#555" stroke-width="0.7" fill="none"/>
<path d="M428.08 164.95L431.48 171.25L424.68 171.25Z" fill="#00b400" stroke="#111" stroke-width="0.6"/>
<path d="M437.2 152.75L440.6 159.05L433.8 159.05Z" fill="#00b400" stroke="#111" stroke-width="0.6"/>
<path d="M446.32 139.25L449.72 145.55L442.92 145.55Z" fill="#00b400" stroke="#111" stroke-width="0.6"/>
<path d="M455.44 129.85L458.84 136.15L452.04 136.15Z" fill="#00b400" stroke="#111" stroke-width="0.6"/>
<path d="M464.56 115.85L467.96 122.15L461.16 122.15Z" fill="#00b400" stroke="#111" stroke-width="0.6"/>
<path d="M475.2 106.45L478.6 112.75L471.8 112.75Z" fill="#00b400" stroke="#111" stroke-width="0.6"/>
<path d="M488.88 98.25L492.28 104.55L485.48 104.55Z" fill="#00b400" stroke="#111" stroke-width="0.6"/>
<path d="M501.04 89.05L504.44 95.35L497.64 95.35Z" fill="#00b400" stroke="#111" stroke-width="0.6"/>
<path d="M519.28 77.05L522.68 83.35L515.88 83.35Z" fill="#00b400" stroke="#111" stroke-width="0.6"/>
<path d="M537.52 67.05L540.92 73.35L534.12 73.35Z" fill="#00b400" stroke="#111" stroke-width="0.6"/>
<path d="M555.76 57.05L559.16 63.35L552.36 63.35Z" fill="#00b400" stroke="#111" stroke-width="0.6"/>
<path d="M574 41.35L577.4 47.65L570.6 47.65Z" fill="#00b400" stroke="#111" stroke-width="0.6"/>
<path d="M592.24 38.85L595.64 45.15L588.84 45.15Z" fill="#00b400" stroke="#111" stroke-width="0.6"/>
<polyline points="391.6,188.6 409.84,187.7 418.96,187.7 428.08,187.7 437.2,187.7 446.32,187.7 455.44,187.7 464.56,187.7 475.2,187.7 488.88,187.7 501.04,187.7 519.28,187.7 537.52,187.7 555.76,187.7 574,187.7 592.24,186.3" fill="none" stroke="#000" stroke-width="1.1" stroke-linejoin="round"/>
<path d="M391.6 184.8L395.4 188.6L391.6 192.4L387.8 188.6Z" fill="#0a7cff" stroke="#102040" stroke-width="0.6"/>
<path d="M409.84 183.9L413.64 187.7L409.84 191.5L406.04 187.7Z" fill="#0a7cff" stroke="#102040" stroke-width="0.6"/>
<path d="M418.96 183.9L422.76 187.7L418.96 191.5L415.16 187.7Z" fill="#0a7cff" stroke="#102040" stroke-width="0.6"/>
<path d="M428.08 183.9L431.88 187.7L428.08 191.5L424.28 187.7Z" fill="#0a7cff" stroke="#102040" stroke-width="0.6"/>
<path d="M437.2 183.9L441 187.7L437.2 191.5L433.4 187.7Z" fill="#0a7cff" stroke="#102040" stroke-width="0.6"/>
<path d="M446.32 183.9L450.12 187.7L446.32 191.5L442.52 187.7Z" fill="#0a7cff" stroke="#102040" stroke-width="0.6"/>
<path d="M455.44 183.9L459.24 187.7L455.44 191.5L451.64 187.7Z" fill="#0a7cff" stroke="#102040" stroke-width="0.6"/>
<path d="M464.56 183.9L468.36 187.7L464.56 191.5L460.76 187.7Z" fill="#0a7cff" stroke="#102040" stroke-width="0.6"/>
<path d="M475.2 183.9L479 187.7L475.2 191.5L471.4 187.7Z" fill="#0a7cff" stroke="#102040" stroke-width="0.6"/>
<path d="M488.88 183.9L492.68 187.7L488.88 191.5L485.08 187.7Z" fill="#0a7cff" stroke="#102040" stroke-width="0.6"/>
<path d="M501.04 183.9L504.84 187.7L501.04 191.5L497.24 187.7Z" fill="#0a7cff" stroke="#102040" stroke-width="0.6"/>
<path d="M519.28 183.9L523.08 187.7L519.28 191.5L515.48 187.7Z" fill="#0a7cff" stroke="#102040" stroke-width="0.6"/>
<path d="M537.52 183.9L541.32 187.7L537.52 191.5L533.72 187.7Z" fill="#0a7cff" stroke="#102040" stroke-width="0.6"/>
<path d="M555.76 183.9L559.56 187.7L555.76 191.5L551.96 187.7Z" fill="#0a7cff" stroke="#102040" stroke-width="0.6"/>
<path d="M574 183.9L577.8 187.7L574 191.5L570.2 187.7Z" fill="#0a7cff" stroke="#102040" stroke-width="0.6"/>
<path d="M592.24 182.5L596.04 186.3L592.24 190.1L588.44 186.3Z" fill="#0a7cff" stroke="#102040" stroke-width="0.6"/>
<polyline points="391.6,187.5 409.84,141.4 418.96,126.2 428.08,106.5 437.2,86.5 446.32,69.6 455.44,64.5 464.56,64.5 475.2,60.9 488.88,69.8 501.04,66.9 519.28,71.7 537.52,76 555.76,77.8 574,71.3 592.24,69.8" fill="none" stroke="#000" stroke-width="1.1" stroke-linejoin="round"/>
<path d="M475.2 55.4V66.4M472.5 55.4H477.9M472.5 66.4H477.9" stroke="#555" stroke-width="0.7" fill="none"/>
<path d="M488.88 65V74.6M486.18 65H491.58M486.18 74.6H491.58" stroke="#555" stroke-width="0.7" fill="none"/>
<circle cx="391.6" cy="187.5" r="3.25" fill="#fff" stroke="#000" stroke-width="0.8"/>
<circle cx="409.84" cy="141.4" r="3.25" fill="#fff" stroke="#000" stroke-width="0.8"/>
<circle cx="418.96" cy="126.2" r="3.25" fill="#fff" stroke="#000" stroke-width="0.8"/>
<circle cx="428.08" cy="106.5" r="3.25" fill="#fff" stroke="#000" stroke-width="0.8"/>
<circle cx="437.2" cy="86.5" r="3.25" fill="#fff" stroke="#000" stroke-width="0.8"/>
<circle cx="446.32" cy="69.6" r="3.25" fill="#fff" stroke="#000" stroke-width="0.8"/>
<circle cx="455.44" cy="64.5" r="3.25" fill="#fff" stroke="#000" stroke-width="0.8"/>
<circle cx="464.56" cy="64.5" r="3.25" fill="#fff" stroke="#000" stroke-width="0.8"/>
<circle cx="475.2" cy="60.9" r="3.25" fill="#fff" stroke="#000" stroke-width="0.8"/>
<circle cx="488.88" cy="69.8" r="3.25" fill="#fff" stroke="#000" stroke-width="0.8"/>
<circle cx="501.04" cy="66.9" r="3.25" fill="#fff" stroke="#000" stroke-width="0.8"/>
<circle cx="519.28" cy="71.7" r="3.25" fill="#fff" stroke="#000" stroke-width="0.8"/>
<circle cx="537.52" cy="76" r="3.25" fill="#fff" stroke="#000" stroke-width="0.8"/>
<circle cx="555.76" cy="77.8" r="3.25" fill="#fff" stroke="#000" stroke-width="0.8"/>
<circle cx="574" cy="71.3" r="3.25" fill="#fff" stroke="#000" stroke-width="0.8"/>
<circle cx="592.24" cy="69.8" r="3.25" fill="#fff" stroke="#000" stroke-width="0.8"/>
<path d="M464.56 31.7V190" stroke="#5fae3f" stroke-width="2" stroke-dasharray="2 2.6"/>
<path d="M407.2 208.7V199" stroke="#ff0000" stroke-width="2"/>
<path d="M407.2 195.3L409.9 200L404.5 200Z" fill="#ff0000"/>
<text x="354.4" y="218.9" font-family="'Liberation Serif', serif" font-size="10.1" font-weight="bold" fill="#ff0000" class="r">BLi-<tspan font-style="italic">gldA</tspan>-overexpression</text>
<rect x="570.8" y="212.5" width="110.3" height="56" fill="#fff" stroke="#444" stroke-width="0.8"/>
<path d="M574.7 221.9H589.9" stroke="#000" stroke-width="1"/>
<circle cx="582.5" cy="221.9" r="3.25" fill="#000" stroke="#000" stroke-width="0.8"/>
<text x="594.1" y="224.3" font-family="'Liberation Serif', serif" font-size="7" font-weight="bold" text-anchor="start" fill="#000" >Glycerol consumption (g/L)</text>
<path d="M574.7 231.6H589.9" stroke="#000" stroke-width="1"/>
<rect x="579.3" y="228.4" width="6.4" height="6.4" fill="#f08080" stroke="#401010" stroke-width="0.7"/>
<text x="594.1" y="234" font-family="'Liberation Serif', serif" font-size="7" font-weight="bold" text-anchor="start" fill="#000" ><tspan font-style="italic">R</tspan>-Acetoin (g/L)</text>
<path d="M574.7 241H589.9" stroke="#000" stroke-width="1"/>
<path d="M582.5 237.45L585.9 243.75L579.1 243.75Z" fill="#00b400" stroke="#111" stroke-width="0.6"/>
<text x="594.1" y="243.4" font-family="'Liberation Serif', serif" font-size="7" font-weight="bold" text-anchor="start" fill="#000" >(<tspan font-style="italic">R</tspan>,<tspan font-style="italic">R</tspan>)-2,3-butanediol (g/L)</text>
<path d="M574.7 250.6H589.9" stroke="#000" stroke-width="1"/>
<path d="M582.5 246.8L586.3 250.6L582.5 254.4L578.7 250.6Z" fill="#0a7cff" stroke="#102040" stroke-width="0.6"/>
<text x="594.1" y="253" font-family="'Liberation Serif', serif" font-size="7" font-weight="bold" text-anchor="start" fill="#000" ><tspan font-style="italic">meso</tspan>-2,3-butanediol (g/L)</text>
<path d="M574.7 260.6H589.9" stroke="#000" stroke-width="1"/>
<circle cx="582.5" cy="260.6" r="3.25" fill="#fff" stroke="#000" stroke-width="0.8"/>
<text x="594.1" y="263" font-family="'Liberation Serif', serif" font-size="7" font-weight="bold" text-anchor="start" fill="#000" >Optical density (600 nm)</text>
</g>
</svg>
</body></html>
